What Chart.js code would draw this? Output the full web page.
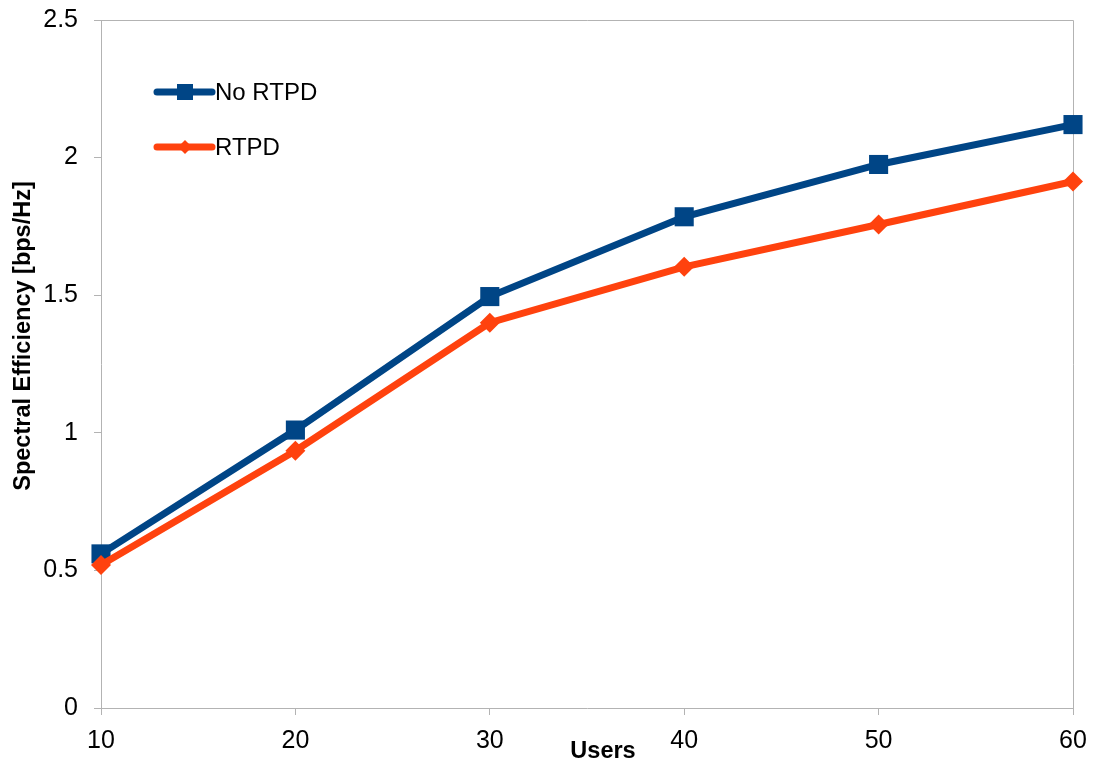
<!DOCTYPE html>
<html>
<head>
<meta charset="utf-8">
<script src="https://cdn.jsdelivr.net/npm/chart.js@4/dist/chart.umd.min.js"></script>
<style>
  html, body { margin: 0; padding: 0; background: #ffffff; }
  #wrap { width: 1094px; height: 762px; }
</style>
</head>
<body>
<div id="wrap"><canvas id="c" width="1094" height="762"></canvas></div>
<script>
// Number of users per simulation run
const users = [10, 20, 30, 40, 50, 60];
// Spectral efficiency [bps/Hz]
const noRtpd = [0.56, 1.01, 1.495, 1.785, 1.975, 2.12];
const rtpd   = [0.52, 0.935, 1.40, 1.603, 1.757, 1.913];

const seriesNames = ['No RTPD', 'RTPD'];
const xTitle = 'Users';
const yTitle = 'Spectral Efficiency [bps/Hz]';

const BLUE = '#004586';
const ORANGE = '#ff420e';
const AXIS = '#b3b3b3';
const FONT = '"Liberation Sans", Arial, sans-serif';

// Frame + axis titles + in-plot legend
const decor = {
  id: 'decor',
  beforeDatasetsDraw(chart) {
    const { ctx, chartArea: a } = chart;
    ctx.save();
    ctx.strokeStyle = AXIS;
    ctx.lineWidth = 1;
    ctx.beginPath();
    ctx.moveTo(a.left, a.top + 0.5);
    ctx.lineTo(a.right + 0.5, a.top + 0.5);
    ctx.lineTo(a.right + 0.5, a.bottom);
    ctx.stroke();
    ctx.restore();
  },
  afterDraw(chart) {
    const { ctx } = chart;
    ctx.save();
    ctx.fillStyle = '#000';
    ctx.font = 'bold 23.5px ' + FONT;
    ctx.textAlign = 'center';
    ctx.textBaseline = 'alphabetic';
    ctx.fillText(xTitle, 603, 758);
    ctx.translate(30, 336);
    ctx.rotate(-Math.PI / 2);
    ctx.fillText(yTitle, 0, 0);
    ctx.restore();

    // legend
    const items = chart.data.datasets.map(d => ({ label: d.label, color: d.borderColor, style: d.pointStyle }));
    const ys = [92, 147];
    ctx.save();
    items.forEach((it, i) => {
      const y = ys[i];
      ctx.strokeStyle = it.color;
      ctx.lineWidth = 7;
      ctx.lineCap = 'round';
      ctx.beginPath();
      ctx.moveTo(157, y);
      ctx.lineTo(212, y);
      ctx.stroke();
      ctx.fillStyle = it.color;
      if (it.style === 'rect') {
        ctx.fillRect(185 - 8, y - 8, 16, 16);
      } else {
        ctx.beginPath();
        ctx.moveTo(185, y - 7);
        ctx.lineTo(192, y);
        ctx.lineTo(185, y + 7);
        ctx.lineTo(178, y);
        ctx.closePath();
        ctx.fill();
      }
      ctx.fillStyle = '#000';
      ctx.font = '24px ' + FONT;
      ctx.textAlign = 'left';
      ctx.textBaseline = 'middle';
      ctx.fillText(it.label, 215, y + 1);
    });
    ctx.restore();
  }
};

new Chart(document.getElementById('c'), {
  type: 'line',
  data: {
    labels: users.map(String),
    datasets: [
      {
        label: seriesNames[0],
        data: noRtpd,
        borderColor: BLUE,
        backgroundColor: BLUE,
        borderWidth: 7,
        pointStyle: 'rect',
        pointRadius: 13.5,
        pointBorderWidth: 0,
        pointBackgroundColor: BLUE,
        tension: 0,
        clip: false,
        order: 1
      },
      {
        label: seriesNames[1],
        data: rtpd,
        borderColor: ORANGE,
        backgroundColor: ORANGE,
        borderWidth: 7,
        pointStyle: 'rectRot',
        pointRadius: 10,
        pointBorderWidth: 0,
        pointBackgroundColor: ORANGE,
        tension: 0,
        clip: false,
        order: 0
      }
    ]
  },
  options: {
    responsive: false,
    animation: false,
    devicePixelRatio: 1,
    layout: { padding: { top: 20, right: 21, left: 0, bottom: 0 } },
    plugins: { legend: { display: false }, tooltip: { enabled: false } },
    scales: {
      x: {
        type: 'category',
        offset: false,
        afterFit(s) { s.height = 54; s.paddingLeft = 0; s.paddingRight = 0; },
        grid: { display: true, drawOnChartArea: false, drawTicks: true, tickLength: 7, color: AXIS },
        border: { display: true, color: AXIS, width: 1 },
        ticks: { color: '#000', font: { family: FONT, size: 25 }, padding: 11, maxRotation: 0 }
      },
      y: {
        min: 0, max: 2.5,
        afterFit(s) { s.width = 101; s.paddingTop = 0; s.paddingBottom = 0; },
        grid: { display: true, drawOnChartArea: false, drawTicks: true, tickLength: 7, color: AXIS },
        border: { display: true, color: AXIS, width: 1 },
        ticks: {
          stepSize: 0.5, color: '#000', font: { family: FONT, size: 25 }, padding: 16,
          callback: v => String(Math.round(v * 10) / 10)
        }
      }
    }
  },
  plugins: [decor]
});
</script>
</body>
</html>
